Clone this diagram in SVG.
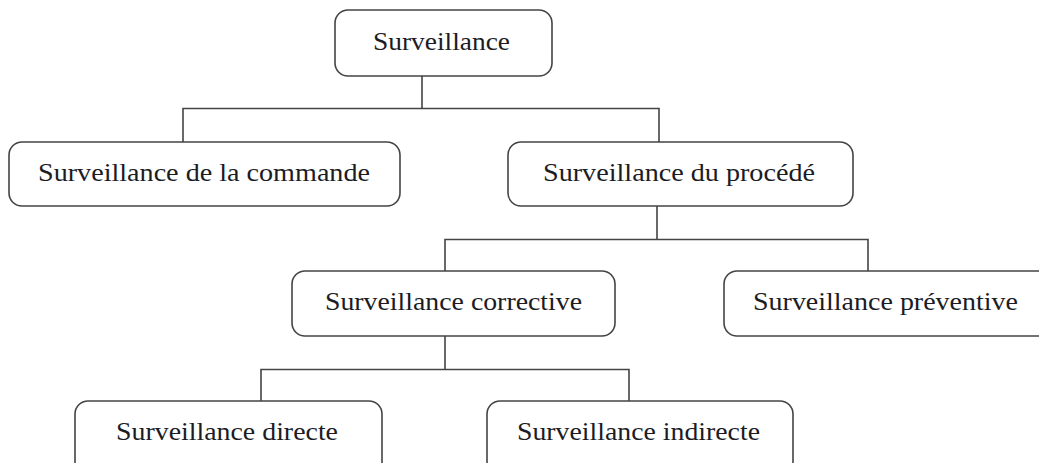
<svg xmlns="http://www.w3.org/2000/svg" width="1039" height="463" viewBox="0 0 1039 463">
<style>
.box{fill:#fff;stroke:#444;stroke-width:1.6}
.lbl{font-family:"Liberation Serif","Times New Roman",serif;font-size:26px;fill:#1c1c24;text-anchor:middle}
.conn{fill:none;stroke:#444;stroke-width:1.6}
</style>
<rect width="1039" height="463" fill="#fff"/>
<g id="connectors">
<path class="conn" d="M422 76V108.5M183 142V108.5H659V142"/>
<path class="conn" d="M657 206V239.5M445 271V239.5H868V271"/>
<path class="conn" d="M445 336V369.5M261 401V369.5H629V401"/>
</g>
<g id="n-surveillance">
<rect class="box" x="335" y="10" width="217" height="66" rx="13"/>
<text class="lbl" x="441.5" y="50" textLength="137" lengthAdjust="spacingAndGlyphs">Surveillance</text>
</g>
<g id="n-commande">
<rect class="box" x="9" y="142" width="391" height="64" rx="13"/>
<text class="lbl" x="204" y="181" textLength="332" lengthAdjust="spacingAndGlyphs">Surveillance de la commande</text>
</g>
<g id="n-procede">
<rect class="box" x="508" y="142" width="345" height="64" rx="13"/>
<text class="lbl" x="679" y="181" textLength="272" lengthAdjust="spacingAndGlyphs">Surveillance du procédé</text>
</g>
<g id="n-corrective">
<rect class="box" x="292" y="271" width="323" height="65" rx="13"/>
<text class="lbl" x="453.5" y="310" textLength="257" lengthAdjust="spacingAndGlyphs">Surveillance corrective</text>
</g>
<g id="n-preventive">
<rect class="box" x="724" y="271" width="330" height="65" rx="13"/>
<text class="lbl" x="885.5" y="310" textLength="265" lengthAdjust="spacingAndGlyphs">Surveillance préventive</text>
</g>
<g id="n-directe">
<rect class="box" x="75" y="401" width="307" height="75" rx="13"/>
<text class="lbl" x="227" y="440" textLength="222" lengthAdjust="spacingAndGlyphs">Surveillance directe</text>
</g>
<g id="n-indirecte">
<rect class="box" x="487" y="401" width="306" height="75" rx="13"/>
<text class="lbl" x="638.5" y="440" textLength="243" lengthAdjust="spacingAndGlyphs">Surveillance indirecte</text>
</g>
</svg>
